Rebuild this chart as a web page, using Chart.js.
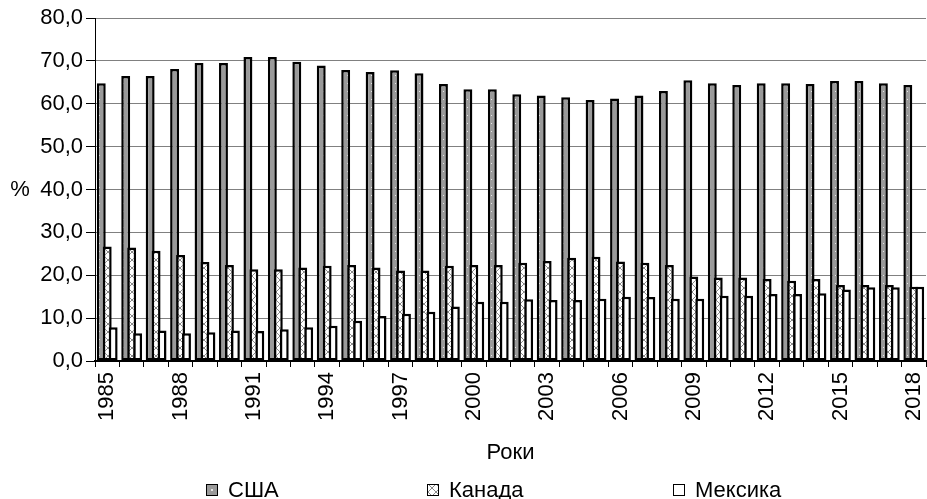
<!DOCTYPE html>
<html>
<head>
<meta charset="utf-8">
<script src="https://cdn.jsdelivr.net/npm/chart.js@4/dist/chart.umd.min.js"></script>
<style>
  html, body { margin: 0; padding: 0; background: #ffffff; overflow: hidden; }
  #wrap { position: relative; width: 927px; height: 499px; }
</style>
</head>
<body>
<div id="wrap"><canvas id="c" width="927" height="499"></canvas></div>
<script>
// ---- data ----
const years = [1985,1986,1987,1988,1989,1990,1991,1992,1993,1994,1995,1996,1997,1998,1999,2000,2001,2002,2003,2004,2005,2006,2007,2008,2009,2010,2011,2012,2013,2014,2015,2016,2017,2018];
const usa    = [64.8,66.5,66.5,68.1,69.5,69.5,70.9,70.9,69.8,68.9,67.9,67.4,67.8,67.1,64.6,63.4,63.4,62.2,61.9,61.5,60.9,61.2,61.9,63.0,65.5,64.8,64.4,64.8,64.8,64.6,65.3,65.3,64.8,64.4];
const canada = [26.7,26.5,25.7,24.7,23.1,22.4,21.4,21.4,21.8,22.2,22.4,21.8,21.1,21.1,22.2,22.4,22.4,22.9,23.3,24.1,24.3,23.2,22.9,22.4,19.7,19.5,19.5,19.1,18.7,19.1,17.7,17.7,17.7,17.3];
const mexico = [7.9,6.5,7.1,6.5,6.7,7.1,7.0,7.4,7.9,8.2,9.4,10.5,11.0,11.5,12.7,13.8,13.8,14.4,14.2,14.2,14.5,15.0,14.9,14.5,14.5,15.2,15.2,15.6,15.6,15.8,16.7,17.2,17.2,17.3];
const seriesNames = ['США', 'Канада', 'Мексика'];
const yTicks = [0,10,20,30,40,50,60,70,80];
const labelEvery = 3;
const xTitle = 'Роки';
const yTitle = '%';

// ---- patterns ----
function dotPattern() {
  const c = document.createElement('canvas'); c.width = 8; c.height = 8;
  const g = c.getContext('2d');
  g.fillStyle = '#9a9a9a'; g.fillRect(0,0,8,8);
  g.fillStyle = '#e6e6e6'; g.fillRect(3,3,1,1);
  return g.createPattern(c, 'repeat');
}
function crossPattern() {
  const c = document.createElement('canvas'); c.width = 8; c.height = 8;
  const g = c.getContext('2d');
  g.fillStyle = '#ffffff'; g.fillRect(0,0,8,8);
  g.strokeStyle = '#8a8a8a'; g.lineWidth = 1;
  g.beginPath(); g.moveTo(0,0); g.lineTo(8,8); g.moveTo(8,0); g.lineTo(0,8); g.stroke();
  return g.createPattern(c, 'repeat');
}
const fills = [dotPattern(), crossPattern(), '#ffffff'];

const FONT = "'Liberation Sans', Arial, sans-serif";
const FS = 22;
Chart.defaults.font.family = FONT;
Chart.defaults.font.size = FS;
Chart.defaults.color = '#000';

const fmt = v => v.toFixed(1).replace('.', ',');

const overlayPlugin = {
  id: 'overlay',
  beforeDatasetsDraw(chart) {
    // draw in index order so later series sit on top
    const metas = chart.getSortedVisibleDatasetMetas().slice().sort((a,b)=>a.index-b.index);
    metas.forEach(m => chart._drawDataset(m));
    return false;
  },
  afterDraw(chart) {
    const ctx = chart.ctx;
    const ys = chart.scales.y;
    ctx.save();
    ctx.font = FS + 'px ' + FONT;
    ctx.fillStyle = '#000';
    ctx.textBaseline = 'middle';
    ctx.textAlign = 'center';
    ctx.fillText(yTitle, 20, ys.getPixelForValue(40));
    // legend
    const boxX = [206, 427, 673];
    const boxY = 484, bs = 12;
    ctx.textAlign = 'left';
    seriesNames.forEach((name, i) => {
      ctx.fillStyle = i === 0 ? '#9a9a9a' : (i === 1 ? fills[1] : '#ffffff');
      ctx.fillRect(boxX[i], boxY, bs, bs);
      if (i === 0) { ctx.fillStyle = '#e6e6e6'; ctx.fillRect(boxX[i]+5, boxY+5, 2, 2); }
      ctx.strokeStyle = '#000'; ctx.lineWidth = 1;
      ctx.strokeRect(boxX[i]+0.5, boxY+0.5, bs-1, bs-1);
      ctx.fillStyle = '#000';
      ctx.fillText(name, boxX[i] + bs + 10, boxY + bs/2 + 1);
    });
    ctx.restore();
  }
};

new Chart(document.getElementById('c'), {
  type: 'bar',
  data: {
    labels: years,
    datasets: [usa, canada, mexico].map((d, i) => ({
      label: seriesNames[i],
      data: d,
      backgroundColor: fills[i],
      borderColor: '#000',
      borderWidth: 2.5,
      borderSkipped: false,
      categoryPercentage: 0.73,
      barPercentage: 1.5
    }))
  },
  options: {
    responsive: false,
    animation: false,
    devicePixelRatio: 1,
    layout: { padding: { top: 18, left: 0, right: 1, bottom: 30 } },
    plugins: { legend: { display: false }, tooltip: { enabled: false } },
    scales: {
      x: {
        type: 'category',
        offset: true,
        grid: { display: true, drawOnChartArea: false, drawTicks: true, tickLength: 6, tickColor: '#000', offset: true },
        border: { display: true, color: '#000', width: 2 },
        ticks: {
          autoSkip: false, minRotation: 90, maxRotation: 90, padding: 5,
          font: { size: FS, family: FONT }, color: '#000',
          callback: (v, i) => (i % labelEvery === 0 ? String(years[i]) : '')
        },
        title: { display: true, text: xTitle, font: { size: FS, family: FONT }, color: '#000', padding: { top: 4, bottom: 3 } },
        afterFit: s => { s.height = 108; s.paddingLeft = 0; s.paddingRight = 0; }
      },
      y: {
        min: 0, max: 80,
        afterBuildTicks: s => { s.ticks = yTicks.map(v => ({ value: v })); },
        grid: { color: '#808080', lineWidth: 1, tickLength: 9, tickColor: '#000', drawTicks: true },
        border: { display: true, color: '#000', width: 1 },
        ticks: { padding: 3, font: { size: FS, family: FONT }, color: '#000', callback: v => fmt(v) },
        afterFit: s => { s.width = 95; s.paddingTop = 0; s.paddingBottom = 0; }
      }
    }
  },
  plugins: [overlayPlugin]
});
</script>
</body>
</html>
